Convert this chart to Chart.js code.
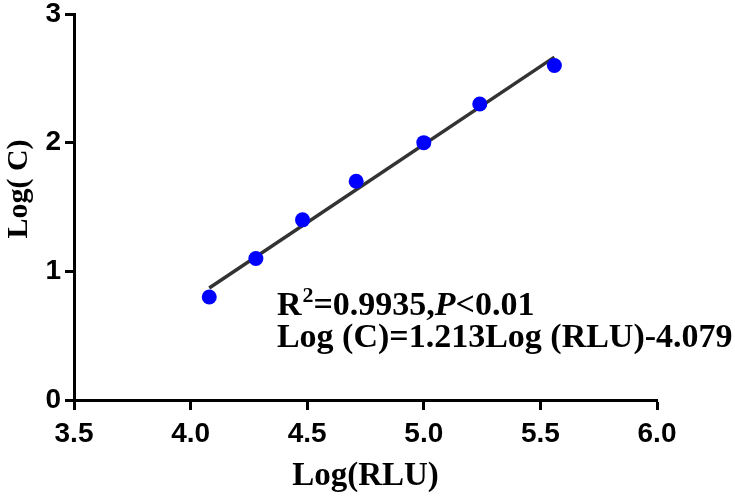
<!DOCTYPE html>
<html>
<head>
<meta charset="utf-8">
<script src="https://cdn.jsdelivr.net/npm/chart.js@4/dist/chart.umd.min.js"></script>
<style>
  html, body { margin: 0; padding: 0; background: #ffffff; }
  #wrap { width: 735px; height: 496px; }
</style>
</head>
<body>
<div id="wrap"><canvas id="c" width="735" height="496"></canvas></div>
<script>
// ---- data ----
const logRLU = [4.08, 4.28, 4.48, 4.71, 5.00, 5.24, 5.56];
const logC   = [0.80, 1.10, 1.40, 1.70, 2.00, 2.30, 2.60];
// fitted line Log(C) = 1.213 Log(RLU) - 4.079, drawn over the data range
const fitX = [4.08, 5.56];
const fitY = [0.87, 2.665];
const xTicks = [3.5, 4.0, 4.5, 5.0, 5.5, 6.0];
const yTicks = [0, 1, 2, 3];
const xTitle = 'Log(RLU)';
const yTitle = 'Log( C)';
const statLine1 = { r2: '0.9935', p: '0.01' };
const statLine2 = 'Log (C)=1.213Log (RLU)-4.079';

const pts = logRLU.map((x, i) => ({ x: x, y: logC[i] }));
const fit = fitX.map((x, i) => ({ x: x, y: fitY[i] }));

const serif = '"Liberation Serif", "Times New Roman", serif';
const sans = '"Liberation Sans", Arial, sans-serif';

const textPlugin = {
  id: 'texts',
  afterDraw(chart) {
    const ctx = chart.ctx;
    const ca = chart.chartArea;
    const xs = chart.scales.x, ys = chart.scales.y;
    ctx.save();
    ctx.fillStyle = '#000';
    // y axis title
    ctx.font = 'bold 30px ' + serif;
    ctx.textAlign = 'center';
    ctx.textBaseline = 'middle';
    ctx.save();
    ctx.translate(19, ys.getPixelForValue(1.64));
    ctx.rotate(-Math.PI / 2);
    ctx.fillText(yTitle, 0, 0);
    ctx.restore();
    // x axis title
    ctx.font = 'bold 33px ' + serif;
    ctx.textBaseline = 'alphabetic';
    ctx.fillText(xTitle, (ca.left + ca.right) / 2, 485);

    // annotation
    ctx.textAlign = 'left';
    let x0 = xs.getPixelForValue(4.37);
    let y1 = ys.getPixelForValue(0.66);
    let y2 = ys.getPixelForValue(0.41);
    const big = 'bold 34px ' + serif;
    const small = 'bold 22px ' + serif;
    const ital = 'italic bold 34px ' + serif;
    let cx = x0;
    ctx.font = big; ctx.fillText('R', cx, y1); cx += ctx.measureText('R').width;
    ctx.font = small; ctx.fillText('2', cx + 1, y1 - 13); cx += ctx.measureText('2').width + 1;
    ctx.font = big; let s = '=' + statLine1.r2 + ','; ctx.fillText(s, cx, y1); cx += ctx.measureText(s).width;
    ctx.font = ital; ctx.fillText('P', cx, y1); cx += ctx.measureText('P').width;
    ctx.font = big; ctx.fillText('<' + statLine1.p, cx, y1);
    ctx.fillText(statLine2, x0, y2);
    ctx.restore();
  }
};

new Chart(document.getElementById('c'), {
  type: 'scatter',
  data: {
    datasets: [
      {
        label: 'data',
        data: pts,
        order: 0,
        pointRadius: 7.5,
        pointHoverRadius: 7.5,
        backgroundColor: '#0000ff',
        borderWidth: 0,
        pointBorderWidth: 0
      },
      {
        label: 'fit',
        type: 'line',
        data: fit,
        order: 1,
        showLine: true,
        borderColor: '#333333',
        borderWidth: 3.5,
        pointRadius: 0,
        fill: false
      }
    ]
  },
  options: {
    responsive: false,
    animation: false,
    devicePixelRatio: 1,
    layout: { padding: { left: 0, right: 78, top: 14, bottom: 0 } },
    plugins: { legend: { display: false }, tooltip: { enabled: false } },
    scales: {
      x: {
        type: 'linear',
        min: 3.5, max: 6.0,
        afterBuildTicks(scale) { scale.ticks = xTicks.map(v => ({ value: v })); },
        afterFit(scale) { scale.height = 96; scale.paddingLeft = 0; scale.paddingRight = 0; },
        ticks: {
          callback: v => Number(v).toFixed(1),
          color: '#000',
          font: { family: sans, size: 28, weight: 'bold' },
          padding: 7,
          maxRotation: 0, autoSkip: false
        },
        grid: { display: true, drawOnChartArea: false, drawTicks: true, tickLength: 10, tickWidth: 3, tickColor: '#000' },
        border: { display: true, color: '#000', width: 3 }
      },
      y: {
        type: 'linear',
        min: 0, max: 3,
        afterBuildTicks(scale) { scale.ticks = yTicks.map(v => ({ value: v })); },
        afterFit(scale) { scale.width = 74; scale.paddingTop = 0; scale.paddingBottom = 0; },
        ticks: {
          callback: v => String(v),
          color: '#000',
          font: { family: sans, size: 28, weight: 'bold' },
          padding: 4,
          autoSkip: false
        },
        grid: { display: true, drawOnChartArea: false, drawTicks: true, tickLength: 9, tickWidth: 3, tickColor: '#000' },
        border: { display: true, color: '#000', width: 3 }
      }
    }
  },
  plugins: [textPlugin]
});
</script>
</body>
</html>
